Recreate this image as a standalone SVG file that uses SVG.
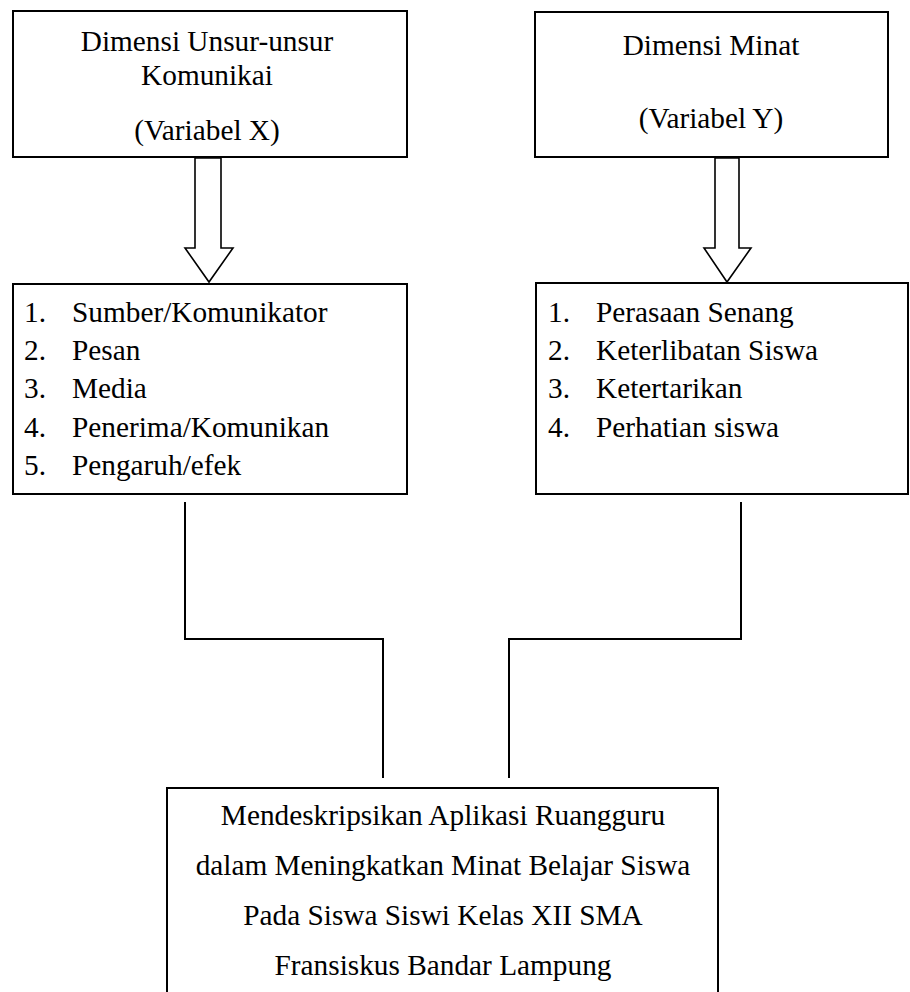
<svg xmlns="http://www.w3.org/2000/svg" width="910" height="992" viewBox="0 0 910 992">
<style>
.box{fill:#fff;stroke:#000;stroke-width:2}
.arrow{fill:#fff;stroke:#000;stroke-width:1.6;stroke-linejoin:miter}
.conn{fill:none;stroke:#000;stroke-width:2}
text{font-family:"Liberation Serif","Times New Roman",serif;font-size:29.3px;fill:#000}
.c{text-anchor:middle}
</style>
<rect width="910" height="992" fill="#fff"/>
<g id="connectors">
<path class="arrow" d="M195,158 L221,158 L221,248 L233,248 L209,282 L185,248 L195,248 Z"/>
<path class="arrow" d="M715,158 L739,158 L739,248 L751,248 L727,282 L704,248 L715,248 Z"/>
<path class="conn" d="M185,502 L185,639 L383,639 L383,778"/>
<path class="conn" d="M741,502 L741,639 L509,639 L509,778"/>
</g>
<g id="varX">
<rect class="box" x="13" y="11" width="394" height="146"/>
<text class="c" x="207" y="51">Dimensi Unsur-unsur</text>
<text class="c" x="207" y="85">Komunikai</text>
<text class="c" x="207" y="140">(Variabel X)</text>
</g>
<g id="varY">
<rect class="box" x="535" y="12" width="353" height="145"/>
<text class="c" x="711" y="55">Dimensi Minat</text>
<text class="c" x="711" y="128">(Variabel Y)</text>
</g>
<g id="listX">
<rect class="box" x="13" y="284" width="394" height="210"/>
<text x="24" y="322">1.</text><text x="72" y="322">Sumber/Komunikator</text>
<text x="24" y="360">2.</text><text x="72" y="360">Pesan</text>
<text x="24" y="398">3.</text><text x="72" y="398">Media</text>
<text x="24" y="437">4.</text><text x="72" y="437">Penerima/Komunikan</text>
<text x="24" y="475">5.</text><text x="72" y="475">Pengaruh/efek</text>
</g>
<g id="listY">
<rect class="box" x="536" y="283" width="372" height="211"/>
<text x="548" y="322">1.</text><text x="596" y="322">Perasaan Senang</text>
<text x="548" y="360">2.</text><text x="596" y="360">Keterlibatan Siswa</text>
<text x="548" y="398">3.</text><text x="596" y="398">Ketertarikan</text>
<text x="548" y="437">4.</text><text x="596" y="437">Perhatian siswa</text>
</g>
<g id="result">
<rect class="box" x="167" y="788" width="551" height="220"/>
<text class="c" x="443" y="825">Mendeskripsikan Aplikasi Ruangguru</text>
<text class="c" x="443" y="875">dalam Meningkatkan Minat Belajar Siswa</text>
<text class="c" x="443" y="925">Pada Siswa Siswi Kelas XII SMA</text>
<text class="c" x="443" y="975">Fransiskus Bandar Lampung</text>
</g>
</svg>
